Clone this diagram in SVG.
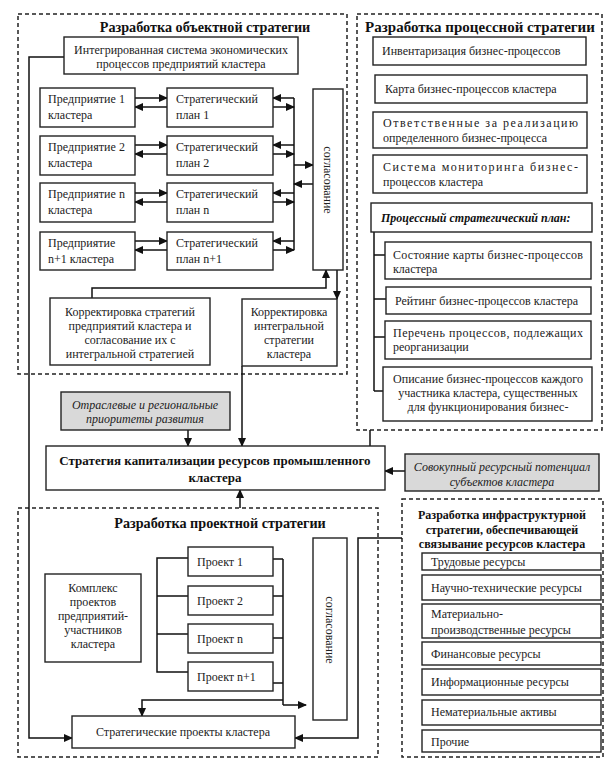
<svg xmlns="http://www.w3.org/2000/svg" width="613" height="763" viewBox="0 0 613 763">
<style>
text{font-family:"Liberation Serif","Times New Roman",serif;font-size:12px;fill:#222}
.t{font-weight:bold;font-size:14.2px;fill:#111}
.t2{font-weight:bold;font-size:15px;fill:#111}
.tb{font-weight:bold;font-size:12px;fill:#111}
.mb{font-weight:bold;font-size:13px;fill:#111}
.it{font-style:italic;font-size:12px}
.bi{font-style:italic;font-weight:bold;font-size:12px;fill:#111}
.c{text-anchor:middle}
.box{fill:#fff;stroke:#222;stroke-width:1.4}
.gray{fill:#d9d9d9;stroke:#222;stroke-width:1.4}
.dash{fill:none;stroke:#222;stroke-width:1.5;stroke-dasharray:4 3}
.ln{fill:none;stroke:#111;stroke-width:1.5}
.ar{fill:none;stroke:#111;stroke-width:1.5;marker-end:url(#ah)}
</style>
<defs>
<marker id="ah" markerUnits="userSpaceOnUse" markerWidth="9" markerHeight="8" refX="8" refY="4" orient="auto">
<path d="M0,0 L9,4 L0,8 Z" fill="#111"/>
</marker>
</defs>
<rect width="613" height="763" fill="#fff"/>

<!-- dashed regions -->
<g id="region-object">
<rect class="dash" x="18" y="14" width="329" height="360"/>
<text class="t c" x="205" y="32">Разработка объектной стратегии</text>
</g>
<g id="region-process">
<rect class="dash" x="357" y="14" width="245" height="416"/>
<text class="t2 c" x="480" y="32">Разработка процессной стратегии</text>
</g>
<g id="region-project">
<rect class="dash" x="18" y="508" width="360" height="249"/>
<text class="t c" x="220" y="528">Разработка проектной стратегии</text>
</g>
<g id="region-infra">
<rect class="dash" x="402" y="499" width="201" height="258"/>
<text class="tb c" x="502" y="519">Разработка инфраструктурной</text>
<text class="tb c" x="502" y="534">стратегии, обеспечивающей</text>
<text class="tb c" x="502" y="548">связывание ресурсов кластера</text>
</g>

<!-- connectors -->
<g id="connectors">
<path class="ar" d="M135,98 H167"/><path class="ar" d="M167,107 H135"/>
<path class="ar" d="M135,145 H167"/><path class="ar" d="M167,154 H135"/>
<path class="ar" d="M135,193 H167"/><path class="ar" d="M167,202 H135"/>
<path class="ar" d="M135,241 H167"/><path class="ar" d="M167,250 H135"/>
<path class="ar" d="M294,98 H273"/><path class="ar" d="M273,107 H294"/>
<path class="ar" d="M294,145 H273"/><path class="ar" d="M273,154 H294"/>
<path class="ar" d="M294,193 H273"/><path class="ar" d="M273,202 H294"/>
<path class="ar" d="M294,241 H273"/><path class="ar" d="M273,250 H294"/>
<path class="ln" d="M294,98 V250"/>
<path class="ar" d="M294,165 H313"/>
<path class="ar" d="M313,184 H294"/>
<path class="ar" d="M92,298 V288 H326 V270"/>
<path class="ar" d="M337,270 V299"/>
<path class="ar" d="M242,366 V446"/>
<path class="ar" d="M64,57 H29 V738 H72"/>
<path class="ar" d="M188,430 V446"/>
<path class="ln" d="M370,430 V446"/>
<path class="ar" d="M405,471 H385"/>
<path class="ar" d="M240,508 V490"/>
<path class="ln" d="M374,232 V391 M374,255 H385 M374,299 H386 M374,337 H385 M374,391 H383"/>
<path class="ln" d="M188,558 H157 V672 H188 M157,596 H188 M157,634 H188"/>
<path class="ln" d="M273,559 H283 M273,596 H283 M273,638 H283 M273,683 H283 M283,559 V705"/>
<path class="ar" d="M283,705 H306"/>
<path class="ar" d="M283,700 H142 V716"/>
<path class="ar" d="M402,538 H358 V738 H295"/>
</g>

<!-- object strategy nodes -->
<g id="n-integrated"><rect class="box" x="64" y="37" width="234" height="37"/>
<text class="c" x="181" y="54">Интегрированная система экономических</text>
<text class="c" x="181" y="68">процессов предприятий кластера</text></g>
<g id="n-ent1"><rect class="box" x="40" y="88" width="95" height="39"/>
<text x="48" y="103" textLength="77" lengthAdjust="spacing">Предприятие 1</text><text x="48" y="119">кластера</text></g>
<g id="n-plan1"><rect class="box" x="167" y="88" width="106" height="39"/>
<text x="176" y="103">Стратегический</text><text x="176" y="119">план 1</text></g>
<g id="n-ent2"><rect class="box" x="40" y="136" width="95" height="39"/>
<text x="48" y="151" textLength="77" lengthAdjust="spacing">Предприятие 2</text><text x="48" y="167">кластера</text></g>
<g id="n-plan2"><rect class="box" x="167" y="136" width="106" height="39"/>
<text x="176" y="151">Стратегический</text><text x="176" y="167">план 2</text></g>
<g id="n-entn"><rect class="box" x="40" y="183" width="95" height="39"/>
<text x="48" y="198" textLength="77" lengthAdjust="spacing">Предприятие n</text><text x="48" y="214">кластера</text></g>
<g id="n-plann"><rect class="box" x="167" y="183" width="106" height="39"/>
<text x="176" y="198">Стратегический</text><text x="176" y="214">план n</text></g>
<g id="n-entn1"><rect class="box" x="40" y="232" width="95" height="38"/>
<text x="48" y="247">Предприятие</text><text x="48" y="263">n+1 кластера</text></g>
<g id="n-plann1"><rect class="box" x="167" y="232" width="106" height="38"/>
<text x="176" y="247">Стратегический</text><text x="176" y="263">план n+1</text></g>
<g id="n-agree1"><rect class="box" x="313" y="89" width="30" height="181"/>
<text class="c" transform="translate(324,180) rotate(90)">согласование</text></g>
<g id="n-corr1"><rect class="box" x="50" y="298" width="160" height="67"/>
<text class="c" x="130" y="316">Корректировка стратегий</text>
<text class="c" x="130" y="330">предприятий кластера и</text>
<text class="c" x="130" y="344">согласование их с</text>
<text class="c" x="130" y="358">интегральной стратегией</text></g>
<g id="n-corr2"><rect class="box" x="242" y="299" width="95" height="67"/>
<text class="c" x="289" y="316">Корректировка</text>
<text class="c" x="289" y="330">интегральной</text>
<text class="c" x="289" y="344">стратегии</text>
<text class="c" x="289" y="358">кластера</text></g>

<!-- process strategy nodes -->
<g id="n-inv"><rect class="box" x="373" y="37" width="213" height="28"/>
<text x="382" y="55">Инвентаризация бизнес-процессов</text></g>
<g id="n-map"><rect class="box" x="375" y="75" width="212" height="28"/>
<text x="385" y="93">Карта бизнес-процессов кластера</text></g>
<g id="n-resp"><rect class="box" x="373" y="112" width="214" height="36"/>
<text x="383" y="127" textLength="195" lengthAdjust="spacing">Ответственные за реализацию</text>
<text x="383" y="142">определенного бизнес-процесса</text></g>
<g id="n-mon"><rect class="box" x="373" y="155" width="214" height="38"/>
<text x="383" y="171" textLength="195" lengthAdjust="spacing">Система мониторинга бизнес-</text>
<text x="383" y="186">процессов кластера</text></g>
<g id="n-plan"><rect class="box" x="371" y="203" width="221" height="29"/>
<text class="bi" x="381" y="222">Процессный стратегический план:</text></g>
<g id="n-state"><rect class="box" x="385" y="242" width="206" height="37"/>
<text x="393" y="259" textLength="190" lengthAdjust="spacing">Состояние карты бизнес-процессов</text>
<text x="393" y="273">кластера</text></g>
<g id="n-rating"><rect class="box" x="386" y="287" width="205" height="27"/>
<text x="395" y="305">Рейтинг бизнес-процессов кластера</text></g>
<g id="n-list"><rect class="box" x="385" y="321" width="206" height="38"/>
<text x="393" y="337" textLength="190" lengthAdjust="spacing">Перечень процессов, подлежащих</text>
<text x="393" y="351">реорганизации</text></g>
<g id="n-desc"><rect class="box" x="383" y="367" width="209" height="54"/>
<text class="c" x="488" y="383">Описание бизнес-процессов каждого</text>
<text class="c" x="488" y="397">участника кластера, существенных</text>
<text class="c" x="488" y="411">для функционирования бизнес-</text></g>

<!-- central -->
<g id="n-priorities"><rect class="gray" x="61" y="392" width="169" height="38"/>
<text class="it c" x="145" y="409">Отраслевые и региональные</text>
<text class="it c" x="145" y="423">приоритеты развития</text></g>
<g id="n-main"><rect class="box" x="46" y="446" width="339" height="44"/>
<text class="mb c" x="215" y="465">Стратегия капитализации ресурсов промышленного</text>
<text class="mb c" x="215" y="482">кластера</text></g>
<g id="n-potential"><rect class="gray" x="405" y="454" width="194" height="37"/>
<text class="it c" x="502" y="471">Совокупный ресурсный потенциал</text>
<text class="it c" x="502" y="486">субъектов кластера</text></g>

<!-- project strategy nodes -->
<g id="n-complex"><rect class="box" x="45" y="574" width="96" height="88"/>
<text class="c" x="93" y="592">Комплекс</text>
<text class="c" x="93" y="606">проектов</text>
<text class="c" x="93" y="620">предприятий-</text>
<text class="c" x="93" y="634">участников</text>
<text class="c" x="93" y="648">кластера</text></g>
<g id="n-p1"><rect class="box" x="188" y="547" width="85" height="29"/><text x="197" y="566">Проект 1</text></g>
<g id="n-p2"><rect class="box" x="188" y="586" width="85" height="29"/><text x="197" y="605">Проект 2</text></g>
<g id="n-pn"><rect class="box" x="188" y="624" width="85" height="29"/><text x="197" y="643">Проект n</text></g>
<g id="n-pn1"><rect class="box" x="188" y="662" width="85" height="29"/><text x="197" y="681">Проект n+1</text></g>
<g id="n-agree2"><rect class="box" x="313" y="538" width="34" height="182"/>
<text class="c" transform="translate(326,630) rotate(90)">согласование</text></g>
<g id="n-projects"><rect class="box" x="72" y="716" width="223" height="32"/>
<text class="c" x="183" y="736">Стратегические проекты кластера</text></g>

<!-- infrastructure nodes -->
<g id="n-r1"><rect class="box" x="422" y="553" width="179" height="17"/><text x="431" y="566">Трудовые ресурсы</text></g>
<g id="n-r2"><rect class="box" x="422" y="575" width="179" height="25"/><text x="431" y="592">Научно-технические ресурсы</text></g>
<g id="n-r3"><rect class="box" x="422" y="604" width="179" height="34"/><text x="431" y="618">Материально-</text><text x="431" y="634">производственные ресурсы</text></g>
<g id="n-r4"><rect class="box" x="422" y="642" width="179" height="23"/><text x="431" y="658">Финансовые ресурсы</text></g>
<g id="n-r5"><rect class="box" x="422" y="669" width="179" height="26"/><text x="431" y="686">Информационные ресурсы</text></g>
<g id="n-r6"><rect class="box" x="422" y="700" width="179" height="25"/><text x="431" y="716">Нематериальные активы</text></g>
<g id="n-r7"><rect class="box" x="422" y="730" width="179" height="22"/><text x="431" y="746">Прочие</text></g>
</svg>
